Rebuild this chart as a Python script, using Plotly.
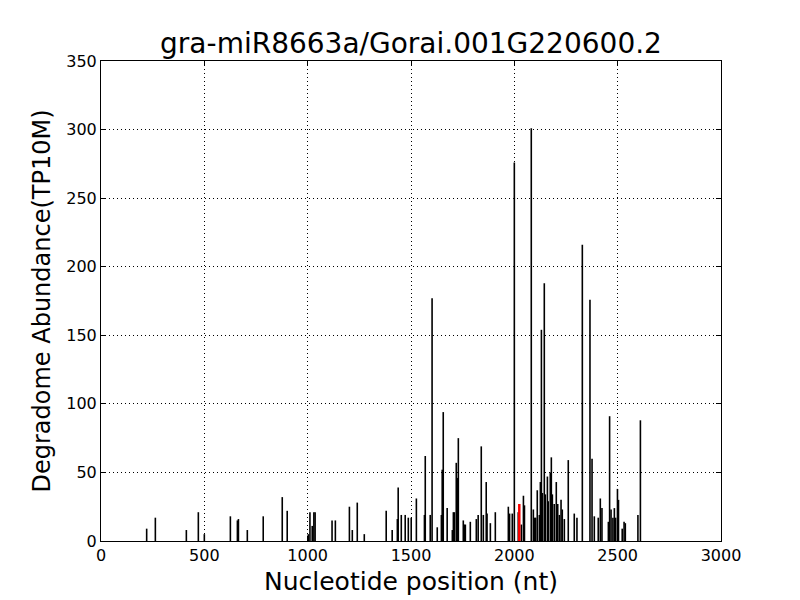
import plotly.graph_objects as go

# positions (nt) and abundances (TP10M) of the degradome reads
POSICOES = [
    221, 263, 413, 471, 500, 626, 660, 665, 708, 785, 877, 901,
    1003, 1011, 1022, 1030, 1036, 1118, 1134, 1202, 1216, 1240, 1274,
    1380, 1409, 1434, 1438, 1453, 1472, 1487, 1501, 1526, 1565, 1569,
    1593, 1602, 1627, 1647, 1651, 1656, 1675, 1700, 1705, 1710, 1719,
    1724, 1729, 1753, 1758, 1763, 1787, 1816, 1825, 1840, 1850, 1864,
    1868, 1884, 1908, 1971, 1977, 1990, 2000, 2019, 2034, 2044, 2049,
    2082, 2092, 2098, 2103, 2111, 2121, 2126, 2131, 2136, 2145, 2150,
    2160, 2164, 2174, 2179, 2184, 2193, 2203, 2210, 2218, 2226, 2232,
    2242, 2261, 2290, 2303, 2329, 2366, 2376, 2387, 2406, 2416, 2424,
    2455, 2461, 2468, 2477, 2484, 2490, 2499, 2504, 2522, 2531, 2537,
    2598, 2610,
]
ABUNDANCIA = [
    9, 17, 8, 21, 5, 18, 15, 16, 8, 18, 32, 22,
    5, 21, 11, 21, 21, 15, 15, 25, 8, 28, 5,
    22, 8, 16, 39, 19, 19, 17, 17, 31, 19, 62,
    19, 177, 10, 19, 52, 94, 24, 8, 21, 21, 57,
    46, 75, 15, 12, 12, 14, 16, 19, 69, 19, 43,
    20, 13, 21, 25, 20, 20, 276, 21, 12, 33, 26,
    301, 23, 17, 17, 37, 19, 43, 154, 35, 188, 34,
    47, 29, 50, 61, 34, 27, 43, 27, 19, 30, 23,
    16, 59, 20, 17, 216, 176, 60, 18, 17, 31, 24,
    14, 91, 23, 17, 24, 17, 38, 30, 9, 14, 13,
    19, 88,
]

# the target site, drawn in red
ALVO_POS = [2024]
ALVO_ABUND = [27]


def hastes(xs, ys):
    hx, hy = [], []
    for x, y in zip(xs, ys):
        hx += [x, x, None]
        hy += [0, y, None]
    return hx, hy


fig = go.Figure()

x, y = hastes(POSICOES, ABUNDANCIA)
fig.add_trace(go.Scatter(x=x, y=y, mode="lines", line=dict(color="black", width=1.6),
                         hoverinfo="skip", showlegend=False))

x, y = hastes(ALVO_POS, ALVO_ABUND)
fig.add_trace(go.Scatter(x=x, y=y, mode="lines", line=dict(color="red", width=2.5),
                         hoverinfo="skip", showlegend=False))

eixo = dict(
    showline=True, mirror="allticks", linecolor="black", linewidth=1,
    ticks="inside", ticklen=5, tickcolor="black",
    showgrid=True, gridcolor="black", griddash="1px,3px", gridwidth=0.7,
    zeroline=False, tickfont=dict(size=16, color="black"), automargin=False,
)

fig.update_xaxes(
    range=[0, 3000], tickvals=[0, 500, 1000, 1500, 2000, 2500, 3000],
    title=dict(text="Nucleotide position (nt)", font=dict(size=25, color="black"), standoff=8),
    **eixo,
)
fig.update_yaxes(
    range=[0, 350], tickvals=[0, 50, 100, 150, 200, 250, 300, 350],
    title=dict(text="Degradome Abundance(TP10M)", font=dict(size=24, color="black"), standoff=8),
    **eixo,
)

# the page body adds ~7px, so margins are trimmed to keep the plot at 100-720 x 60-540
fig.update_layout(
    width=800, height=600,
    margin=dict(l=93, r=87, t=53, b=67),
    paper_bgcolor="white", plot_bgcolor="white",
    font=dict(family="DejaVu Sans", color="black"),
    title=dict(text="gra-miR8663a/Gorai.001G220600.2", x=0.5, xref="paper",
               xanchor="center", y=1 - 35 / 600, yref="container", yanchor="middle",
               font=dict(size=28, color="black")),
)

fig.write_html("out.html")
